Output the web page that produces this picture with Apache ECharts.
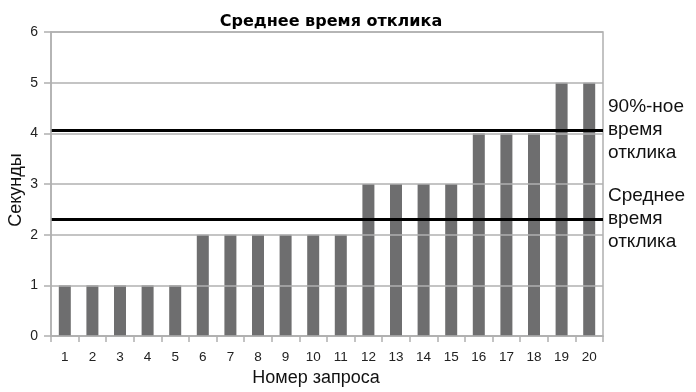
<!DOCTYPE html>
<html><head><meta charset="utf-8">
<script src="https://cdn.jsdelivr.net/npm/echarts@6/dist/echarts.min.js"></script>
<style>html,body{margin:0;padding:0;background:#fff}#c{width:696px;height:392px}</style>
</head><body><div id="c"></div>
<script>
const categories = ['1','2','3','4','5','6','7','8','9','10','11','12','13','14','15','16','17','18','19','20'];
const responseTimes = [1,1,1,1,1,2,2,2,2,2,2,3,3,3,3,4,4,4,5,5];
const percentile90 = 4.07;
const averageTime = 2.31;
const yTicks = {min: 0, max: 6, interval: 1};

const chart = echarts.init(document.getElementById('c'));
chart.setOption({
  animation: false,
  title: {text: 'Среднее время отклика', left: 326, textAlign: 'center', top: 9,
    textStyle: {fontFamily: 'DejaVu Sans', fontWeight: 'bold', fontSize: 16, color: '#000'}},
  grid: {left: 51, right: 93, top: 32, bottom: 56, show: true, borderColor: '#b0b0b0', borderWidth: 1.5,
    backgroundColor: 'transparent', containLabel: false, outerBoundsMode: 'none'},
  xAxis: {type: 'category', data: categories, boundaryGap: true,
    name: 'Номер запроса', nameLocation: 'middle', nameGap: 33,
    nameTextStyle: {fontFamily: 'Liberation Sans', fontSize: 18, color: '#111', padding: [0, 22, 0, 0]},
    axisLine: {lineStyle: {color: '#b0b0b0', width: 1.5}},
    axisTick: {show: true, length: 6, lineStyle: {color: '#b0b0b0', width: 1.5}},
    axisLabel: {margin: 14, fontFamily: 'Liberation Sans', fontSize: 13.5, color: '#222'}},
  yAxis: {type: 'value', min: yTicks.min, max: yTicks.max, interval: yTicks.interval, z: 5,
    name: 'Секунды', nameLocation: 'middle', nameGap: 26, nameRotate: 90, nameMoveOverlap: false,
    nameTextStyle: {fontFamily: 'Liberation Sans', fontSize: 18, color: '#111', padding: [0, 12, 0, 0]},
    axisLine: {show: true, lineStyle: {color: '#b0b0b0', width: 1.5}},
    axisTick: {show: true, length: 7, lineStyle: {color: '#b0b0b0', width: 1.5}},
    splitLine: {lineStyle: {color: '#b0b0b0', width: 1.5}},
    axisLabel: {margin: 13, fontFamily: 'Liberation Sans', fontSize: 14, color: '#222'}},
  series: [
    {type: 'bar', data: responseTimes, barWidth: 12, itemStyle: {color: '#6e6e6f'}, z: 2},
    {type: 'line', data: [], z: 10,
      markLine: {symbol: 'none', silent: true,
        lineStyle: {color: '#000', width: 3, type: 'solid'},
        label: {position: 'end', distance: 5, fontFamily: 'Liberation Sans', fontSize: 19, lineHeight: 23, color: '#111', align: 'left'},
        data: [
          {yAxis: percentile90, label: {formatter: '90%-ное\nвремя\nотклика'}},
          {yAxis: averageTime, label: {formatter: 'Среднее\nвремя\nотклика'}}
        ]}}
  ]
});
</script></body></html>
